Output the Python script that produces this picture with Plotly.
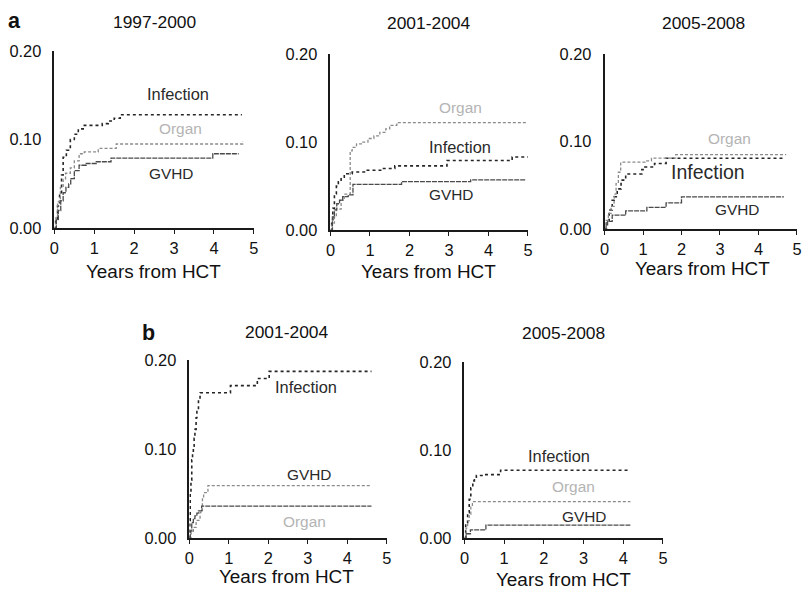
import plotly.graph_objects as go

W, H = 806, 596
# The viewer shows the 806x596 page inside an 8px frame (page -> (8,8)-(798,588)),
# so picture coordinates are mapped back to page fractions with these constants.
FRAME = 8
INNER_W, INNER_H = W - 2 * FRAME, H - 2 * FRAME
FSCALE = 0.5 * (W / INNER_W + H / INNER_H)

# ---------------- data (years from HCT, cumulative incidence) ----------------
# Panel a, 1997-2000
a1_inf_t = [0, 0.03, 0.08, 0.13, 0.18, 0.22, 0.3, 0.4, 0.5, 0.6, 0.75, 1.2, 1.35, 1.5, 1.65, 4.7]
a1_inf_v = [0, 0.01, 0.025, 0.04, 0.06, 0.08, 0.088, 0.1, 0.106, 0.112, 0.116, 0.118, 0.121, 0.124, 0.128, 0.128]
a1_org_t = [0, 0.04, 0.08, 0.15, 0.22, 0.28, 0.4, 0.5, 0.62, 0.75, 1.1, 1.55, 4.65, 4.72]
a1_org_v = [0, 0.012, 0.03, 0.046, 0.055, 0.062, 0.068, 0.076, 0.084, 0.086, 0.09, 0.095, 0.095, 0.098]
a1_gvh_t = [0, 0.05, 0.1, 0.16, 0.22, 0.29, 0.36, 0.41, 0.5, 0.62, 0.8, 1.05, 1.42, 3.97, 4.62]
a1_gvh_v = [0, 0.01, 0.02, 0.031, 0.04, 0.046, 0.05, 0.056, 0.065, 0.071, 0.073, 0.075, 0.079, 0.084, 0.084]

# Panel a, 2001-2004
a2_inf_t = [0, 0.03, 0.06, 0.1, 0.15, 0.2, 0.27, 0.35, 0.55, 0.9, 1.3, 1.63, 2.95, 4.6, 5.0]
a2_inf_v = [0, 0.012, 0.025, 0.041, 0.05, 0.055, 0.06, 0.064, 0.066, 0.068, 0.07, 0.073, 0.079, 0.083, 0.083]
a2_org_t = [0, 0.04, 0.1, 0.15, 0.27, 0.35, 0.5, 0.55, 0.66, 0.8, 0.95, 1.1, 1.25, 1.4, 1.5, 1.68, 4.95]
a2_org_v = [0, 0.008, 0.015, 0.024, 0.034, 0.041, 0.09, 0.094, 0.098, 0.1, 0.104, 0.107, 0.111, 0.115, 0.119, 0.122, 0.122]
a2_gvh_t = [0, 0.05, 0.1, 0.16, 0.23, 0.31, 0.45, 0.57, 1.8, 3.55, 4.95]
a2_gvh_v = [0, 0.015, 0.023, 0.03, 0.034, 0.038, 0.04, 0.052, 0.055, 0.057, 0.057]

# Panel a, 2005-2008
a3_inf_t = [0, 0.05, 0.12, 0.2, 0.25, 0.33, 0.43, 0.55, 0.97, 1.05, 1.3, 1.6, 4.66]
a3_inf_v = [0, 0.01, 0.022, 0.033, 0.037, 0.046, 0.056, 0.063, 0.068, 0.071, 0.075, 0.081, 0.081]
a3_org_t = [0, 0.04, 0.1, 0.17, 0.25, 0.3, 0.36, 0.42, 1.05, 1.22, 1.85, 4.72]
a3_org_v = [0, 0.01, 0.018, 0.026, 0.04, 0.052, 0.065, 0.0765, 0.078, 0.081, 0.085, 0.085]
a3_gvh_t = [0, 0.04, 0.08, 0.2, 0.55, 1.1, 1.6, 2.0, 4.66]
a3_gvh_v = [0, 0.005, 0.009, 0.016, 0.021, 0.025, 0.03, 0.037, 0.037]

# Panel b, 2001-2004
b1_inf_t = [0, 0.01, 0.02, 0.04, 0.06, 0.08, 0.1, 0.12, 0.14, 0.17, 0.19, 0.23, 0.27, 1.04, 1.72, 2.02, 4.61]
b1_inf_v = [0, 0.02, 0.05, 0.065, 0.088, 0.095, 0.103, 0.112, 0.122, 0.135, 0.144, 0.155, 0.163, 0.171, 0.179, 0.187, 0.187]
b1_gvh_t = [0, 0.04, 0.1, 0.17, 0.27, 0.33, 0.36, 0.47, 4.61]
b1_gvh_v = [0, 0.006, 0.012, 0.02, 0.029, 0.044, 0.051, 0.059, 0.059]
b1_org_t = [0, 0.02, 0.06, 0.1, 0.14, 0.19, 0.23, 0.31, 4.61]
b1_org_v = [0, 0.008, 0.0175, 0.022, 0.025, 0.028, 0.0305, 0.036, 0.036]

# Panel b, 2005-2008
b2_inf_t = [0, 0.03, 0.08, 0.12, 0.16, 0.21, 0.25, 0.3, 0.5, 0.91, 4.14]
b2_inf_v = [0, 0.016, 0.029, 0.044, 0.057, 0.065, 0.069, 0.071, 0.072, 0.077, 0.077]
b2_org_t = [0, 0.04, 0.08, 0.12, 0.16, 0.2, 4.18]
b2_org_v = [0, 0.0115, 0.02, 0.027, 0.036, 0.0415, 0.0415]
b2_gvh_t = [0, 0.04, 0.15, 0.54, 4.18]
b2_gvh_v = [0, 0.005, 0.0094, 0.0147, 0.0147]

panel_titles = ["1997-2000", "2001-2004", "2005-2008", "2001-2004", "2005-2008"]
x_ticks = [0, 1, 2, 3, 4, 5]
y_ticks = [0, 0.1, 0.2]
y_ticktext = ["0.00", "0.10", "0.20"]
x_title = "Years from HCT"

# curve label positions (data coords) per panel: (text, x, y)
curve_labels = [
    [("Infection", 3.11, 0.151), ("Organ", 3.16, 0.112), ("GVHD", 2.93, 0.062)],
    [("Organ", 3.29, 0.139), ("Infection", 3.29, 0.094), ("GVHD", 3.04, 0.040)],
    [("Organ", 3.25, 0.103), ("Infection", 2.7, 0.065), ("GVHD", 3.45, 0.022)],
    [("Infection", 2.96, 0.169), ("GVHD", 3.04, 0.0715), ("Organ", 2.91, 0.019)],
    [("Infection", 2.39, 0.093), ("Organ", 2.74, 0.059), ("GVHD", 3.0, 0.024)],
]

# ---------------- layout geometry (picture pixels) ----------------
# (x_left, x_right, y_top, y_bottom)
panel_px = [
    (57, 255, 50, 228),
    (331, 527, 53, 230),
    (603, 794, 53, 229),
    (191, 387, 360, 539),
    (464, 661, 362, 539),
]
title_px = [(156, 21), (428, 22), (701, 22), (287, 332), (562, 333)]
xtitle_px = [(155, 271), (428, 271), (700, 268), (287, 577), (562, 580)]

FONT = "Liberation Sans, Arial, sans-serif"
INF = dict(color="#262626", width=1.6, dash="dot")
ORG = dict(color="#8a8a8a", width=1.3, dash="3px,2px")
GVH = dict(color="#4a4a4a", width=1.3, dash="5px,1px")
LABEL_COLOR = {"Infection": "#2a2a2a", "Organ": "#b4b4b4", "GVHD": "#2a2a2a"}

series = [
    [(a1_inf_t, a1_inf_v, INF), (a1_org_t, a1_org_v, ORG), (a1_gvh_t, a1_gvh_v, GVH)],
    [(a2_inf_t, a2_inf_v, INF), (a2_org_t, a2_org_v, ORG), (a2_gvh_t, a2_gvh_v, GVH)],
    [(a3_inf_t, a3_inf_v, INF), (a3_org_t, a3_org_v, ORG), (a3_gvh_t, a3_gvh_v, GVH)],
    [(b1_inf_t, b1_inf_v, INF), (b1_gvh_t, b1_gvh_v, ORG), (b1_org_t, b1_org_v, GVH)],
    [(b2_inf_t, b2_inf_v, INF), (b2_org_t, b2_org_v, ORG), (b2_gvh_t, b2_gvh_v, GVH)],
]


def fx(x):
    return min(max((x - FRAME) / INNER_W, 0.0), 1.0)


def fy(y):
    return min(max(1 - (y - FRAME) / INNER_H, 0.0), 1.0)


def fs(size):
    return round(size * FSCALE, 1)


fig = go.Figure()
annotations = []
layout_axes = {}

for i, (x0, x1, yt, yb) in enumerate(panel_px):
    n = "" if i == 0 else str(i + 1)
    xa, ya = "x" + n, "y" + n
    for t, v, style in series[i]:
        fig.add_trace(go.Scatter(x=t, y=v, mode="lines", line=dict(shape="hv", **style),
                                 xaxis=xa, yaxis=ya, showlegend=False, hoverinfo="skip"))
    layout_axes["xaxis" + n] = dict(
        domain=[fx(x0), fx(x1)], range=[0, 5], anchor=ya,
        showgrid=False, zeroline=False, showline=True, linecolor="#1a1a1a", linewidth=1.6,
        tickmode="array", tickvals=x_ticks, ticktext=[str(v) for v in x_ticks],
        ticks="outside", ticklen=4, tickwidth=1.2, tickcolor="#1a1a1a",
        tickfont=dict(family=FONT, size=fs(16), color="#111"),
        fixedrange=True,
    )
    layout_axes["yaxis" + n] = dict(
        domain=[fy(yb), fy(yt)], range=[0, 0.2], anchor=xa,
        showgrid=False, zeroline=False, showline=True, linecolor="#1a1a1a", linewidth=1.6,
        tickmode="array", tickvals=y_ticks, ticktext=y_ticktext,
        ticks="", ticklabelstandoff=8,
        tickfont=dict(family=FONT, size=fs(16), color="#111"),
        fixedrange=True,
    )
    tx, ty = title_px[i]
    annotations.append(dict(text=panel_titles[i], x=fx(tx), y=fy(ty), xref="paper", yref="paper",
                            showarrow=False, xanchor="center", yanchor="middle",
                            font=dict(family=FONT, size=fs(17), color="#111")))
    gx, gy = xtitle_px[i]
    annotations.append(dict(text=x_title, x=fx(gx), y=fy(gy), xref="paper", yref="paper",
                            showarrow=False, xanchor="center", yanchor="middle",
                            font=dict(family=FONT, size=fs(18.5), color="#111")))
    for txt, lx, ly in curve_labels[i]:
        size = 15
        if txt == "Infection":
            size = 19 if i == 2 else 16
        annotations.append(dict(text=txt, x=lx, y=ly, xref=xa, yref=ya, showarrow=False,
                                xanchor="center", yanchor="middle",
                                font=dict(family=FONT, size=fs(size), color=LABEL_COLOR[txt])))

for letter, (lx, ly) in [("a", (17, 20)), ("b", (150, 333))]:
    annotations.append(dict(text="<b>" + letter + "</b>", x=fx(lx), y=fy(ly),
                            xref="paper", yref="paper",
                            showarrow=False, xanchor="center", yanchor="middle",
                            font=dict(family=FONT, size=fs(21), color="#111")))

fig.update_layout(
    width=W, height=H, margin=dict(l=0, r=0, t=0, b=0),
    paper_bgcolor="white", plot_bgcolor="white",
    annotations=annotations, **layout_axes,
)

fig.write_html("out.html", config={"displayModeBar": False})
